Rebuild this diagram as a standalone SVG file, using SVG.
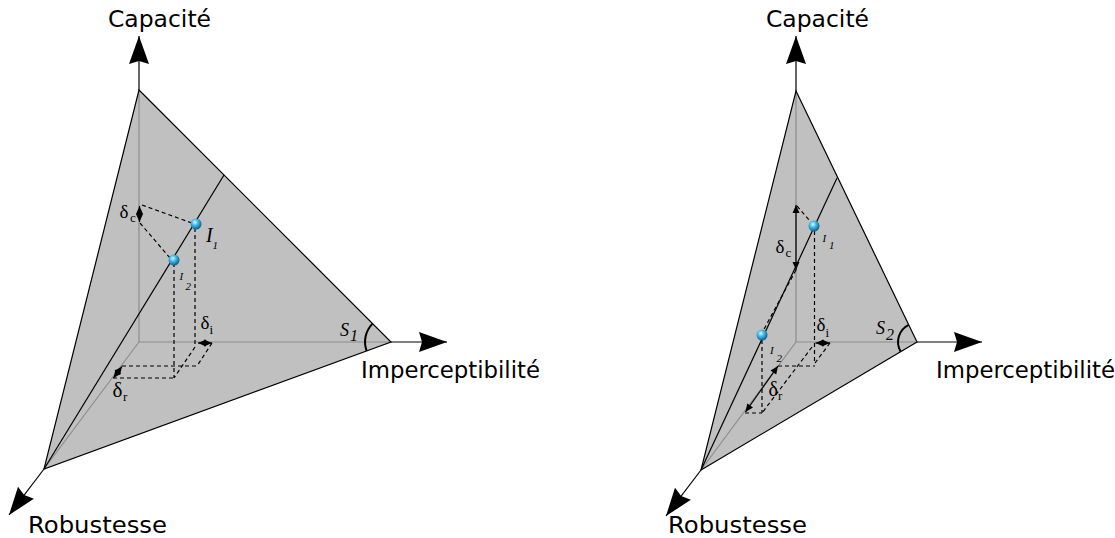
<svg xmlns="http://www.w3.org/2000/svg" width="1115" height="538" viewBox="0 0 1115 538">
<defs>
<style>
.face{fill:#c0c0c0;stroke:none}
.edge{fill:none;stroke:#000;stroke-width:1.2}
.inner{fill:none;stroke:#8c8c8c;stroke-width:1.2}
.axis{fill:none;stroke:#000;stroke-width:1.2}
.dash{fill:none;stroke:#000;stroke-width:1.2;stroke-dasharray:4,3}
.darr{fill:none;stroke:#000;stroke-width:1.2}
.arc{fill:none;stroke:#000;stroke-width:2}
.lbl{font-family:"DejaVu Sans","Liberation Sans",sans-serif;font-size:23px;fill:#000}
.gr{font-family:"Liberation Serif","DejaVu Serif",serif;fill:#000}
.it{font-family:"Liberation Serif","DejaVu Serif",serif;font-style:italic;fill:#000}
</style>
<marker id="big" viewBox="-30 -12 32 24" markerWidth="32" markerHeight="24" refX="0" refY="0" orient="auto" markerUnits="userSpaceOnUse">
<path d="M0,0 L-28,-10 L-25,0 L-28,10 Z" fill="#000"/>
</marker>
<marker id="sm" viewBox="-9 -5 10 10" markerWidth="10" markerHeight="10" refX="0" refY="0" orient="auto-start-reverse" markerUnits="userSpaceOnUse">
<path d="M0,0 L-8,-3.5 L-8,3.5 Z" fill="#000"/>
</marker>
<radialGradient id="ball" cx="0.4" cy="0.35" r="0.65">
<stop offset="0" stop-color="#d8f8ff"/>
<stop offset="0.45" stop-color="#3cb8e8"/>
<stop offset="1" stop-color="#0a5f8f"/>
</radialGradient>
</defs>

<!-- LEFT DIAGRAM -->
<g id="left-face">
<polygon class="face" points="139,90 391,342 44,469"/>
<path class="inner" d="M139,90 L139,342 L391,342 M139,342 L44,469"/>
<path class="edge" d="M139,90 L391,342 L44,469 Z"/>
</g>
<g id="left-connectors">
<path class="axis" d="M139,90 L139,36" marker-end="url(#big)"/>
<path class="axis" d="M391,342 L447,342" marker-end="url(#big)"/>
<path class="axis" d="M44,469 L9,515" marker-end="url(#big)"/>
<path class="edge" d="M44,469 L224,175"/>
<path class="dash" d="M142,205 L192,223 M140,223 L170,258 M195,228 L195,347 M174,263 L174,378 M212,343 L197,366 M195,347 L174,378 M122,366 L197,366 M113,378 L174,378"/>
<path class="darr" d="M139.5,206 L139.5,222" marker-start="url(#sm)" marker-end="url(#sm)"/>
<path class="darr" d="M198,343 L212,343" marker-start="url(#sm)" marker-end="url(#sm)"/>
<path class="darr" d="M122,366.5 L113.5,378" marker-start="url(#sm)" marker-end="url(#sm)"/>
<path class="arc" d="M372.6,323.6 A26,26 0 0 0 366.6,350.8"/>
</g>
<g id="left-I1"><circle cx="196" cy="224" r="5.5" fill="url(#ball)"/><text class="it" x="206" y="242" font-size="20">I</text><text class="it" x="212.5" y="248.5" font-size="11">1</text></g>
<g id="left-I2"><circle cx="174" cy="260" r="5.5" fill="url(#ball)"/><text class="it" x="179.5" y="280" font-size="11">I</text><text class="it" x="185.5" y="289.5" font-size="11">2</text></g>
<g id="left-labels">
<text class="lbl" x="108" y="27" textLength="103" lengthAdjust="spacingAndGlyphs">Capacité</text>
<text class="lbl" x="361" y="378" textLength="179" lengthAdjust="spacingAndGlyphs">Imperceptibilité</text>
<text class="lbl" x="28" y="533" textLength="139" lengthAdjust="spacingAndGlyphs">Robustesse</text>
<text class="gr" x="119.5" y="217.5" font-size="19">δ</text><text class="gr" x="130" y="222" font-size="13">c</text>
<text class="gr" x="200.5" y="328.5" font-size="19">δ</text><text class="gr" x="209.5" y="333.5" font-size="13">i</text>
<text class="gr" x="112.5" y="396.5" font-size="21">δ</text><text class="gr" x="123" y="400.5" font-size="13">r</text>
<text class="it" x="340" y="336" font-size="18">S</text><text class="it" x="350" y="341" font-size="16">1</text>
</g>

<!-- RIGHT DIAGRAM -->
<g id="right-face">
<polygon class="face" points="796,91 917,342 701,470"/>
<path class="inner" d="M796,91 L796,342 L917,342 M796,342 L701,470"/>
<path class="edge" d="M796,91 L917,342 L701,470 Z"/>
</g>
<g id="right-connectors">
<path class="axis" d="M796,91 L796,36" marker-end="url(#big)"/>
<path class="axis" d="M917,342 L982,342" marker-end="url(#big)"/>
<path class="axis" d="M701,470 L666,516" marker-end="url(#big)"/>
<path class="edge" d="M701,470 L837,178"/>
<path class="dash" d="M797,206 L810,221 M814.5,231 L814.5,364 M796,270 L763,331 M762,340 L762,413 M745,413 L762,413 M830,343 L815,363 M812,347 L762,413 M778,366 L815,366"/>
<path class="darr" d="M796,205 L796,270" marker-start="url(#sm)" marker-end="url(#sm)"/>
<path class="darr" d="M815.5,343 L830,343" marker-start="url(#sm)" marker-end="url(#sm)"/>
<path class="darr" d="M778,366 L745.5,412" marker-start="url(#sm)" marker-end="url(#sm)"/>
<path class="arc" d="M908.7,324.9 A19,19 0 0 0 900.7,351.7"/>
</g>
<g id="right-I1"><circle cx="814" cy="226" r="5.5" fill="url(#ball)"/><text class="it" x="822.5" y="242" font-size="11">I</text><text class="it" x="829" y="248.5" font-size="11">1</text></g>
<g id="right-I2"><circle cx="762" cy="335" r="5.5" fill="url(#ball)"/><text class="it" x="770" y="353.5" font-size="11">I</text><text class="it" x="776.5" y="361.5" font-size="11">2</text></g>
<g id="right-labels">
<text class="lbl" x="766" y="27" textLength="103" lengthAdjust="spacingAndGlyphs">Capacité</text>
<text class="lbl" x="936" y="378" textLength="179" lengthAdjust="spacingAndGlyphs">Imperceptibilité</text>
<text class="lbl" x="668" y="533" textLength="139" lengthAdjust="spacingAndGlyphs">Robustesse</text>
<text class="gr" x="775.5" y="252.5" font-size="19">δ</text><text class="gr" x="785.5" y="257" font-size="13">c</text>
<text class="gr" x="816.5" y="330.5" font-size="19">δ</text><text class="gr" x="825.5" y="337" font-size="13">i</text>
<text class="gr" x="768.5" y="395.5" font-size="20">δ</text><text class="gr" x="778" y="400" font-size="13">r</text>
<text class="it" x="876" y="333.5" font-size="18">S</text><text class="it" x="886" y="339.5" font-size="16">2</text>
</g>
</svg>
